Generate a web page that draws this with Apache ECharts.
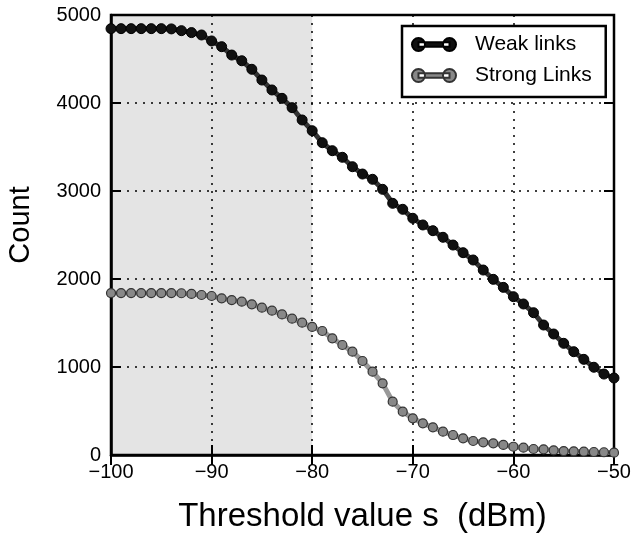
<!DOCTYPE html>
<html>
<head>
<meta charset="utf-8">
<script src="https://cdn.jsdelivr.net/npm/echarts@6/dist/echarts.min.js"></script>
<style>html,body{margin:0;padding:0;background:#fff}#c{width:640px;height:539px}</style>
</head>
<body>
<div id="c"></div>
<script>
var thresholds = [-100,-99,-98,-97,-96,-95,-94,-93,-92,-91,-90,-89,-88,-87,-86,-85,-84,-83,-82,-81,-80,-79,-78,-77,-76,-75,-74,-73,-72,-71,-70,-69,-68,-67,-66,-65,-64,-63,-62,-61,-60,-59,-58,-57,-56,-55,-54,-53,-52,-51,-50];
var weakLinks = [4845,4845,4845,4845,4845,4845,4842,4822,4800,4773,4705,4640,4545,4480,4383,4261,4148,4053,3947,3807,3685,3549,3458,3383,3276,3193,3133,3019,2860,2792,2690,2614,2549,2474,2386,2299,2216,2102,1996,1905,1799,1716,1617,1477,1375,1269,1174,1087,997,920,875];
var strongLinks = [1840,1840,1840,1840,1840,1840,1840,1838,1830,1818,1807,1780,1761,1742,1712,1674,1640,1598,1549,1504,1455,1409,1326,1250,1174,1068,947,814,606,492,417,360,315,265,227,189,159,144,133,114,94,83,68,64,53,45,42,38,34,31,26];
var seriesNames = ['Weak links', 'Strong Links'];
var shadedRange = [-100, -80];
var xTicks = {min: -100, max: -50, interval: 10};
var yTicks = {min: 0, max: 5000, interval: 1000};

function pairs(ys){ return thresholds.map(function(x,i){ return [x, ys[i]]; }); }
var FONT = 'Liberation Sans, Arial, sans-serif';
var iconPath = 'path://M0,6.5a6.5,6.5 0 1,0 13,0a6.5,6.5 0 1,0 -13,0Z M31,6.5a6.5,6.5 0 1,0 13,0a6.5,6.5 0 1,0 -13,0Z M6.5,4.3h31v4.4h-31Z';
var minus = function(v){ return String(v).replace('-', '\u2212'); };

var chart = echarts.init(document.getElementById('c'), null, {renderer: 'canvas'});
chart.setOption({
  animation: false,
  backgroundColor: '#fff',
  textStyle: {fontFamily: FONT},
  grid: {left: 111, right: 26, top: 15, bottom: 84, containLabel: false, outerBoundsMode: 'none',
         show: true, borderColor: '#000', borderWidth: 2.5, backgroundColor: 'transparent'},
  legend: {
    orient: 'vertical', left: 402, top: 26,
    padding: [8, 14, 11, 9], itemGap: 10,
    borderColor: '#000', borderWidth: 2.5, backgroundColor: '#fff', borderRadius: 0,
    icon: iconPath, itemWidth: 44, itemHeight: 13,
    textStyle: {fontSize: 21, color: '#000', fontFamily: FONT, padding: [0, 0, 0, 14]},
    data: seriesNames
  },
  xAxis: [{
    type: 'value', min: xTicks.min, max: xTicks.max, interval: xTicks.interval,
    name: 'Threshold value s  (dBm)', nameLocation: 'middle', nameGap: 45,
    nameTextStyle: {fontSize: 33, color: '#000', fontFamily: FONT},
    axisLine: {show: true, onZero: false, lineStyle: {color: '#000', width: 2.5}},
    axisTick: {show: true, inside: true, length: 10, lineStyle: {color: '#000', width: 2}},
    axisLabel: {fontSize: 20, color: '#000', margin: 7, formatter: minus, fontFamily: FONT},
    splitLine: {show: true, lineStyle: {color: '#000', width: 1.5, type: [2, 6]}}
  }, {
    type: 'value', position: 'top', min: xTicks.min, max: xTicks.max, interval: xTicks.interval,
    axisLine: {show: false},
    axisTick: {show: true, inside: true, length: 10, lineStyle: {color: '#000', width: 2}},
    axisLabel: {show: false}, splitLine: {show: false}
  }],
  yAxis: [{
    type: 'value', min: yTicks.min, max: yTicks.max, interval: yTicks.interval,
    name: 'Count', nameLocation: 'middle', nameGap: 76,
    nameTextStyle: {fontSize: 29, color: '#000', fontFamily: FONT, padding: [0, 0, 0, 20]},
    axisLine: {show: true, lineStyle: {color: '#000', width: 2.5}},
    axisTick: {show: true, inside: true, length: 10, lineStyle: {color: '#000', width: 2}},
    axisLabel: {fontSize: 20, color: '#000', margin: 10, fontFamily: FONT, formatter: function(v){ return String(v); }},
    splitLine: {show: true, lineStyle: {color: '#000', width: 1.5, type: [2, 6]}}
  }, {
    type: 'value', position: 'right', min: yTicks.min, max: yTicks.max, interval: yTicks.interval,
    axisLine: {show: false},
    axisTick: {show: true, inside: true, length: 10, lineStyle: {color: '#000', width: 2}},
    axisLabel: {show: false}, splitLine: {show: false}
  }],
  series: [{
    name: seriesNames[0], type: 'line', data: pairs(weakLinks),
    symbol: 'circle', symbolSize: 10, z: 3,
    lineStyle: {color: '#333', width: 5},
    itemStyle: {color: '#111', borderColor: '#000', borderWidth: 1},
    markArea: {silent: true, itemStyle: {color: 'rgba(0,0,0,0.105)'}, data: [[{xAxis: shadedRange[0]}, {xAxis: shadedRange[1]}]]}
  }, {
    name: seriesNames[1], type: 'line', data: pairs(strongLinks),
    symbol: 'circle', symbolSize: 9, z: 2,
    lineStyle: {color: '#999', width: 5},
    itemStyle: {color: '#888', borderColor: '#333', borderWidth: 1.2}
  }]
});
</script>
</body>
</html>
